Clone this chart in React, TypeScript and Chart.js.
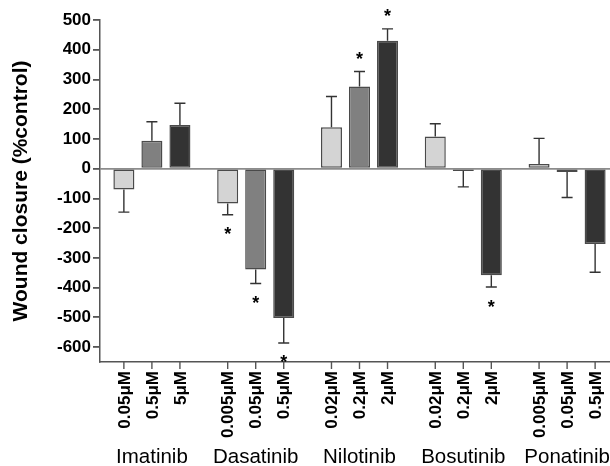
import React, { useEffect, useRef } from 'react';
import { Chart, registerables } from 'chart.js';

Chart.register(...registerables);

const drugs = ['Imatinib', 'Dasatinib', 'Nilotinib', 'Bosutinib', 'Ponatinib'];

const lowDoseLabels = ['0.05μM', '0.005μM', '0.02μM', '0.02μM', '0.005μM'];
const midDoseLabels = ['0.5μM', '0.05μM', '0.2μM', '0.2μM', '0.05μM'];
const highDoseLabels = ['5μM', '0.5μM', '2μM', '2μM', '0.5μM'];

const lowDoseValues = [-70, -117, 139, 108, 16];
const midDoseValues = [94, -339, 276, -8, -11];
const highDoseValues = [147, -502, 430, -358, -253];

const lowDoseErrors = [76, 38, 104, 43, 86];
const midDoseErrors = [64, 47, 51, 53, 86];
const highDoseErrors = [73, 84, 40, 40, 95];

const lowDoseSignificant = [false, true, false, false, false];
const midDoseSignificant = [false, true, true, false, false];
const highDoseSignificant = [false, true, true, true, false];

const yMin = -650;
const yMax = 500;
const yStep = 100;

const FONT = '"Liberation Sans", Arial, Helvetica, sans-serif';

const doseLabels = [lowDoseLabels, midDoseLabels, highDoseLabels];
const doseErrors = [lowDoseErrors, midDoseErrors, highDoseErrors];
const doseSignificant = [lowDoseSignificant, midDoseSignificant, highDoseSignificant];

const errorBarPlugin = {
  id: 'errorBars',
  afterDatasetsDraw(chart: any) {
    const ctx = chart.ctx;
    const yScale = chart.scales.y;
    ctx.save();
    chart.data.datasets.forEach((ds: any, di: number) => {
      const meta = chart.getDatasetMeta(di);
      meta.data.forEach((el: any, i: number) => {
        const v = ds.data[i];
        const sign = v >= 0 ? 1 : -1;
        const end = v + sign * doseErrors[di][i];
        const yEnd = yScale.getPixelForValue(end);
        const x = el.x;
        ctx.strokeStyle = '#333333';
        ctx.lineWidth = 1.4;
        ctx.beginPath();
        ctx.moveTo(x, el.y);
        ctx.lineTo(x, yEnd);
        ctx.moveTo(x - 5.5, yEnd);
        ctx.lineTo(x + 5.5, yEnd);
        ctx.stroke();
        if (doseSignificant[di][i]) {
          const cy = sign > 0 ? yEnd - 17 : yEnd + 15;
          ctx.fillStyle = '#000';
          ctx.font = `bold 18px ${FONT}`;
          ctx.textAlign = 'center';
          ctx.textBaseline = 'alphabetic';
          ctx.fillText('*', x, cy + 10.5);
        }
      });
    });
    ctx.restore();
  },
  afterDraw(chart: any) {
    const ctx = chart.ctx;
    const bottom = chart.chartArea.bottom;
    ctx.save();
    chart.data.datasets.forEach((ds: any, di: number) => {
      const meta = chart.getDatasetMeta(di);
      meta.data.forEach((el: any, i: number) => {
        const x = el.x;
        ctx.strokeStyle = '#555555';
        ctx.lineWidth = 1.4;
        ctx.beginPath();
        ctx.moveTo(x, bottom);
        ctx.lineTo(x, bottom + 7);
        ctx.stroke();
        ctx.save();
        ctx.translate(x, bottom + 9);
        ctx.rotate(-Math.PI / 2);
        ctx.fillStyle = '#000';
        ctx.font = `bold 17px ${FONT}`;
        ctx.textAlign = 'right';
        ctx.textBaseline = 'middle';
        ctx.fillText(doseLabels[di][i], 0, 1);
        ctx.restore();
      });
    });
    ctx.restore();
  },
};

export default function App() {
  const ref = useRef<HTMLCanvasElement | null>(null);

  useEffect(() => {
    if (!ref.current) return;
    const mk = (data: number[], color: string) => ({
      data,
      backgroundColor: color,
      borderColor: '#4a4a4a',
      borderWidth: 1.5,
      borderSkipped: false,
      categoryPercentage: 0.81,
      barPercentage: 0.75,
    });
    const chart = new Chart(ref.current, {
      type: 'bar',
      data: {
        labels: drugs,
        datasets: [
          mk(lowDoseValues, '#d4d4d4'),
          mk(midDoseValues, '#808080'),
          mk(highDoseValues, '#333333'),
        ],
      },
      options: {
        animation: false,
        responsive: false,
        devicePixelRatio: 1,
        layout: { padding: { top: 20, right: 1, left: 0, bottom: 0 } },
        plugins: { legend: { display: false }, tooltip: { enabled: false } },
        scales: {
          x: {
            type: 'category',
            offset: true,
            grid: { display: false },
            border: { display: true, color: '#555555', width: 1.5 },
            ticks: {
              color: '#000',
              font: { family: FONT, size: 20.5 },
              padding: 75,
              maxRotation: 0,
              autoSkip: false,
            },
            afterFit: (s: any) => {
              s.height = 104;
              s.paddingLeft = 0;
              s.paddingRight = 0;
            },
          },
          y: {
            min: yMin,
            max: yMax,
            ticks: {
              stepSize: yStep,
              includeBounds: false,
              color: '#000',
              font: { family: FONT, size: 17, weight: 'bold' },
              padding: 2,
            },
            grid: {
              drawOnChartArea: true,
              drawTicks: true,
              tickLength: 7,
              tickColor: '#555555',
              lineWidth: 1.8,
              color: (c: any) => (c.tick && c.tick.value === 0 ? '#8c8c8c' : 'rgba(0,0,0,0)'),
            },
            border: { display: true, color: '#555555', width: 1.5 },
            title: {
              display: true,
              text: 'Wound closure (%control)',
              color: '#000',
              font: { family: FONT, size: 21, weight: 'bold' },
              padding: { top: 9, bottom: 0 },
            },
            afterFit: (s: any) => {
              s.width = 100;
            },
          },
        },
      } as any,
      plugins: [errorBarPlugin],
    });
    return () => chart.destroy();
  }, []);

  return (
    <div style={{ position: 'absolute', left: 0, top: 0, width: 610, height: 466, overflow: 'hidden', background: '#fff' }}>
      <canvas ref={ref} width={620} height={466} style={{ width: 620, height: 466, display: 'block' }} />
    </div>
  );
}
